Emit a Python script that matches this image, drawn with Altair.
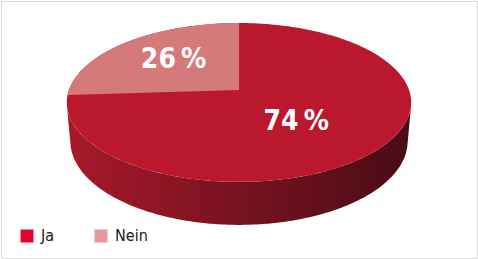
import math
import altair as alt
import pandas as pd

# ---- data ----
categories = ["Ja", "Nein"]
shares = [74, 26]
label_texts = ["74\u202f%", "26\u202f%"]

# ---- styles ----
pie_colors = {"Ja": "#bb172d", "Nein": "#d57a7b"}
legend_colors = ["#e2062c", "#e9979a"]
side_left, side_right = "#a8192b", "#470c15"
W, H = 478, 259
PAD = 1
FONT = "'Liberation Sans Narrow', 'DejaVu Sans Condensed', 'DejaVu Sans', sans-serif"

# perspective model of a tilted disc (radius 1)
CX, CY = 239.0, 90.0
F = 966.0
D = 5.68
T = math.radians(27.1)
DEPTH = 0.258
label_r = {"Ja": 0.44, "Nein": 0.56}
label_dy = {"Ja": 8, "Nein": -2}


def proj(X, Y, Z=0.0):
    v = Y * math.sin(T) - Z * math.cos(T)
    dep = D - Y * math.cos(T) - Z * math.sin(T)
    return CX + F * X / dep, CY + F * v / dep


def ang_pt(a_deg, r=1.0, Z=0.0):
    a = math.radians(a_deg)
    return proj(-r * math.sin(a), -r * math.cos(a), Z)


N = 240
# side band (visible front of the cylinder)
beta = math.asin(1.0 / (D * math.cos(T)))
side = []
phis = [beta + (math.pi - 2 * beta) * k / N for k in range(N + 1)]
for k, p in enumerate(phis):
    x, y = proj(math.cos(p), math.sin(p), 0.0)
    side.append({"x": x, "y": y, "i": k})
for k, p in enumerate(reversed(phis)):
    x, y = proj(math.cos(p), math.sin(p), -DEPTH)
    side.append({"x": x, "y": y, "i": N + 1 + k})
side_df = pd.DataFrame(side)

# full top face (first slice colour), then the other slices over it
top = []
for k in range(N + 1):
    x, y = ang_pt(360.0 * k / N)
    top.append({"x": x, "y": y, "i": k})
top_df = pd.DataFrame(top)

# slices: counter-clockwise from 12 o'clock, Nein first
order = ["Nein", "Ja"]
start = 0.0
slices = []
labels = []
for cat in order:
    s = shares[categories.index(cat)]
    a0, a1 = start, start + 360.0 * s / 100.0
    x, y = proj(0, 0)
    slices.append({"x": x, "y": y, "i": 0, "cat": cat})
    n = max(4, int(N * s / 100))
    for k in range(n + 1):
        x, y = ang_pt(a0 + (a1 - a0) * k / n)
        slices.append({"x": x, "y": y, "i": k + 1, "cat": cat})
    lx, ly = ang_pt((a0 + a1) / 2, label_r[cat])
    labels.append({"x": lx, "y": ly + label_dy[cat], "t": label_texts[categories.index(cat)]})
    start = a1
slice_df = pd.DataFrame(slices)
nein_df = slice_df[slice_df["cat"] == "Nein"]
label_df = pd.DataFrame(labels)

legend_df = pd.DataFrame({"cat": categories, "x": [CX, CX], "y": [CY + 20, CY + 20]})

xs = alt.Scale(domain=[PAD, W - PAD], nice=False, zero=False)
ys = alt.Scale(domain=[PAD, H - PAD], nice=False, zero=False, reverse=True)
X = lambda: alt.X("x:Q", scale=xs, axis=None)
Y = lambda: alt.Y("y:Q", scale=ys, axis=None)

legend_layer = alt.Chart(legend_df).mark_square(size=169, opacity=1).encode(
    x=X(), y=Y(),
    color=alt.Color("cat:N", scale=alt.Scale(domain=categories, range=legend_colors),
                    legend=alt.Legend(title=None, orient="none", legendX=18, legendY=227,
                                      direction="horizontal", symbolType="square",
                                      symbolSize=169, symbolStrokeWidth=0,
                                      labelFont=FONT, labelFontSize=16,
                                      labelColor="#1a1a1a", labelOffset=6,
                                      columnPadding=38, padding=0)),
)

side_layer = alt.Chart(side_df).mark_line(
    filled=True,
    color=alt.Gradient(gradient="linear",
                       stops=[alt.GradientStop(color=side_left, offset=0),
                              alt.GradientStop(color=side_right, offset=1)],
                       x1=0, x2=1, y1=0, y2=0),
).encode(x=X(), y=Y(), order="i:Q")

top_layer = alt.Chart(top_df).mark_line(filled=True, color=pie_colors["Ja"]).encode(
    x=X(), y=Y(), order="i:Q")

nein_layer = alt.Chart(nein_df).mark_line(filled=True, color=pie_colors["Nein"]).encode(
    x=X(), y=Y(), order="i:Q")

text_layer = alt.Chart(label_df).mark_text(
    font=FONT, fontWeight="bold", fontSize=28, color="white",
    align="center", baseline="middle",
).encode(x=X(), y=Y(), text="t:N")

chart = alt.layer(legend_layer, side_layer, top_layer, nein_layer, text_layer).properties(
    width=W - 2 * PAD, height=H - 2 * PAD, padding=PAD,
    autosize=alt.AutoSizeParams(type="none"),
).configure_view(stroke="#9e9e9e", strokeWidth=2.4).configure(background="white")

chart.save("out.html", embed_options={"renderer": "svg", "actions": False})
